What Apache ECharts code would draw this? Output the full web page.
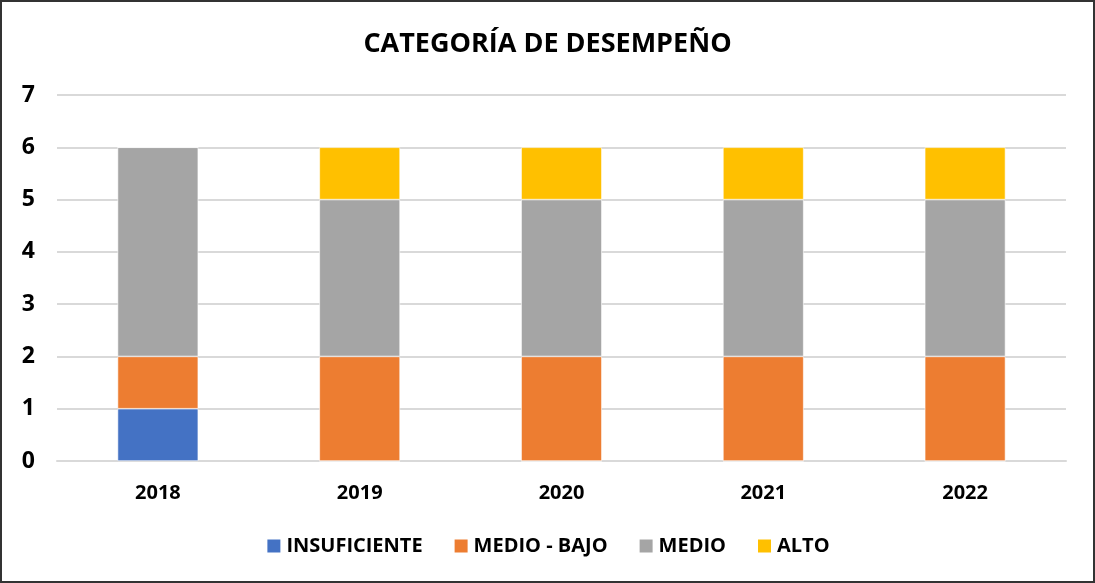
<!DOCTYPE html>
<html>
<head>
<meta charset="utf-8">
<script src="https://cdn.jsdelivr.net/npm/echarts@6/dist/echarts.min.js"></script>
<style>
  html, body { margin: 0; padding: 0; background: #fff; }
  #chart { width: 1095px; height: 583px; box-sizing: border-box; border: 2px solid #333; }
</style>
</head>
<body>
<div id="chart"></div>
<script>
// datos
var years = ['2018', '2019', '2020', '2021', '2022'];
var insuficiente = [1, 0, 0, 0, 0];
var medioBajo = [1, 2, 2, 2, 2];
var medio = [4, 3, 3, 3, 3];
var alto = [0, 1, 1, 1, 1];
var yTicks = [0, 7, 1]; // min, max, intervalo

var fontFam = '"Open Sans", "Liberation Sans", sans-serif';

function serie(name, data, color) {
    return {
        name: name,
        type: 'bar',
        stack: 'total',
        barWidth: '40%',
        data: data,
        itemStyle: { color: color, borderColor: '#fff', borderWidth: 0.6 },
        emphasis: { disabled: true }
    };
}

var option = {
    animation: false,
    title: {
        text: 'CATEGORÍA DE DESEMPEÑO',
        left: 'center',
        top: 24,
        textStyle: { fontFamily: fontFam, fontWeight: 'bold', fontSize: 27, color: '#000' }
    },
    legend: {
        bottom: 20,
        left: 'center',
        itemWidth: 15,
        itemHeight: 15,
        itemGap: 30,
        icon: 'rect',
        textStyle: { fontFamily: fontFam, fontWeight: 'bold', fontSize: 20, color: '#000' },
        data: ['INSUFICIENTE', 'MEDIO - BAJO', 'MEDIO', 'ALTO']
    },
    grid: { left: 55, right: 27, top: 93, bottom: 120, containLabel: false },
    xAxis: {
        type: 'category',
        data: years,
        axisLine: { lineStyle: { color: '#d9d9d9', width: 2 } },
        axisTick: { show: false },
        axisLabel: { fontFamily: fontFam, fontWeight: 'bold', fontSize: 20, color: '#000', margin: 22 }
    },
    yAxis: {
        type: 'value',
        min: yTicks[0],
        max: yTicks[1],
        interval: yTicks[2],
        axisLine: { show: false },
        axisTick: { show: false },
        splitLine: { lineStyle: { color: '#d9d9d9', width: 2 } },
        axisLabel: { fontFamily: fontFam, fontWeight: 'bold', fontSize: 23, color: '#000', margin: 22 }
    },
    series: [
        serie('INSUFICIENTE', insuficiente, '#4472c4'),
        serie('MEDIO - BAJO', medioBajo, '#ed7d31'),
        serie('MEDIO', medio, '#a5a5a5'),
        serie('ALTO', alto, '#ffc000')
    ]
};

var myChart = echarts.init(document.getElementById('chart'));
myChart.setOption(option);
</script>
</body>
</html>
